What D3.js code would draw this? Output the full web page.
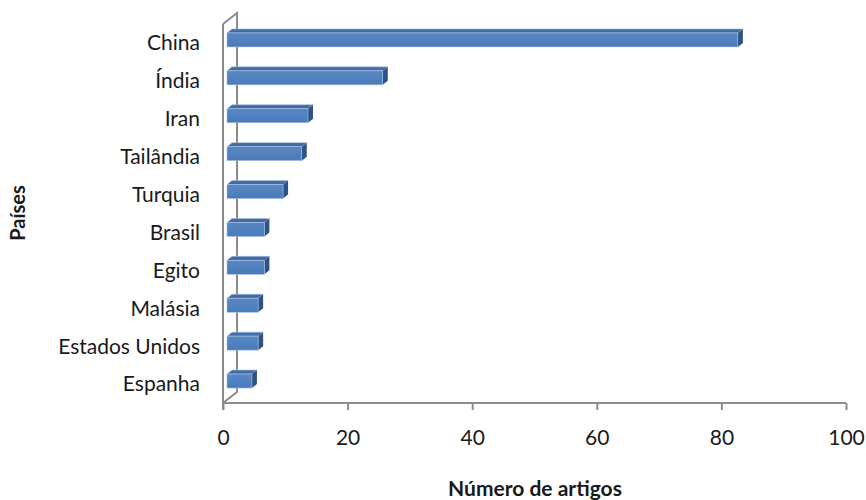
<!DOCTYPE html>
<html>
<head>
  <meta charset="utf-8">
  <title>Países - Número de artigos</title>
  <script src="https://d3js.org/d3.v7.min.js"></script>
  <style>
  body {
    margin: 0;
    background: #fff;
  }

  text {
    font-family: Lato, "Open Sans", sans-serif;
    fill: #1a1a1a;
  }

  .wall {
    stroke: #8c8c8c;
    stroke-width: 2;
    fill: none;
  }
  </style>
</head>
<body>
  <script>

    var paises = ["China", "Índia", "Iran", "Tailândia", "Turquia", "Brasil", "Egito", "Malásia", "Estados Unidos", "Espanha"];
    var artigos = [82, 25, 13, 12, 9, 6, 6, 5, 5, 4];
    var xTicks = [0, 20, 40, 60, 80, 100];

    var width = 866;
    var height = 500;

    // depth of the 3d walls and of the bars
    var depth = [14, -11];
    var barDepth = [5, -4];
    var barShift = 4;

    var svg = d3.select("body")
      .append("svg")
      .attr("width", width)
      .attr("height", height);

    var x = d3.scaleLinear()
      .domain([0, 100])
      .range([223, 846]);

    var y = d3.scaleBand()
      .domain(paises)
      .range([24, 403]);

    // back wall line
    svg.append("path")
      .attr("class", "wall")
      .attr("d", "M" + x(0) + "," + y.range()[1] +
        "L" + (x(0) + depth[0]) + "," + (y.range()[1] + depth[1]) +
        "L" + (x(0) + depth[0]) + "," + (y.range()[0] + depth[1]) +
        "L" + x(0) + "," + y.range()[0]);

    var data = paises.map(function(p, i) {
      return { pais: p, valor: artigos[i] };
    });

    var defs = svg.append("defs");
    var grad = defs.append("linearGradient")
      .attr("id", "frente")
      .attr("x1", 0).attr("y1", 0)
      .attr("x2", 0).attr("y2", 1);
    grad.append("stop").attr("offset", "0%").attr("stop-color", "#5887c4");
    grad.append("stop").attr("offset", "100%").attr("stop-color", "#4a7bb8");

    var bars = svg.append("g")
      .selectAll("g")
      .data(data)
      .enter()
      .append("g");

    function geo(d) {
      var cy = y(d.pais) + y.bandwidth() / 2;
      return {
        x0: x(0) + barShift,
        x1: x(d.valor) + barShift,
        y0: cy - 10,
        y1: cy + 4
      };
    }

    // top face
    bars.append("path")
      .attr("fill", "#3f6ca5")
      .attr("stroke", "#a9c1e0")
      .attr("stroke-width", 0.6)
      .attr("d", function(d) {
        var g = geo(d);
        return "M" + g.x0 + "," + g.y0 +
          "L" + (g.x0 + barDepth[0]) + "," + (g.y0 + barDepth[1]) +
          "L" + (g.x1 + barDepth[0]) + "," + (g.y0 + barDepth[1]) +
          "L" + g.x1 + "," + g.y0 + "Z";
      });

    // side face
    bars.append("path")
      .attr("fill", "#2d5283")
      .attr("d", function(d) {
        var g = geo(d);
        return "M" + g.x1 + "," + g.y0 +
          "L" + (g.x1 + barDepth[0]) + "," + (g.y0 + barDepth[1]) +
          "L" + (g.x1 + barDepth[0]) + "," + (g.y1 + barDepth[1]) +
          "L" + g.x1 + "," + g.y1 + "Z";
      });

    // front face
    bars.append("rect")
      .attr("fill", "url(#frente)")
      .attr("stroke", "#a9c1e0")
      .attr("stroke-width", 0.6)
      .attr("x", function(d) { return geo(d).x0; })
      .attr("y", function(d) { return geo(d).y0; })
      .attr("width", function(d) { var g = geo(d); return g.x1 - g.x0; })
      .attr("height", function(d) { var g = geo(d); return g.y1 - g.y0; });

    // front vertical line
    svg.append("line")
      .attr("class", "wall")
      .attr("x1", x(0)).attr("x2", x(0))
      .attr("y1", y.range()[0]).attr("y2", y.range()[1] + 7);

    // category labels
    svg.append("g")
      .selectAll("text")
      .data(paises)
      .enter()
      .append("text")
      .attr("x", 200)
      .attr("y", function(d) { return y(d) + y.bandwidth() / 2; })
      .attr("dy", "0.35em")
      .attr("text-anchor", "end")
      .style("font-size", "21px")
      .text(function(d) { return d; });

    // x axis
    var xAxis = svg.append("g")
      .attr("transform", "translate(0," + y.range()[1] + ")")
      .call(d3.axisBottom(x).tickValues(xTicks).tickSize(7).tickPadding(20));

    xAxis.selectAll("path, line")
      .attr("stroke", "#8c8c8c")
      .attr("stroke-width", 2);
    xAxis.select(".domain")
      .attr("d", "M" + x(0) + ",0H" + x(100));
    xAxis.selectAll("text")
      .style("font-size", "21px")
      .style("font-family", "Lato, 'Open Sans', sans-serif")
      .attr("fill", "#1a1a1a");

    // axis titles
    svg.append("text")
      .attr("x", 535)
      .attr("y", 489)
      .attr("dy", "0.35em")
      .attr("text-anchor", "middle")
      .style("font-size", "21px")
      .style("font-weight", "bold")
      .text("Número de artigos");

    svg.append("text")
      .attr("transform", "translate(18,213) rotate(-90)")
      .attr("dy", "0.35em")
      .attr("text-anchor", "middle")
      .style("font-size", "20px")
      .style("font-weight", "bold")
      .text("Países");

  </script>
</body>
</html>
